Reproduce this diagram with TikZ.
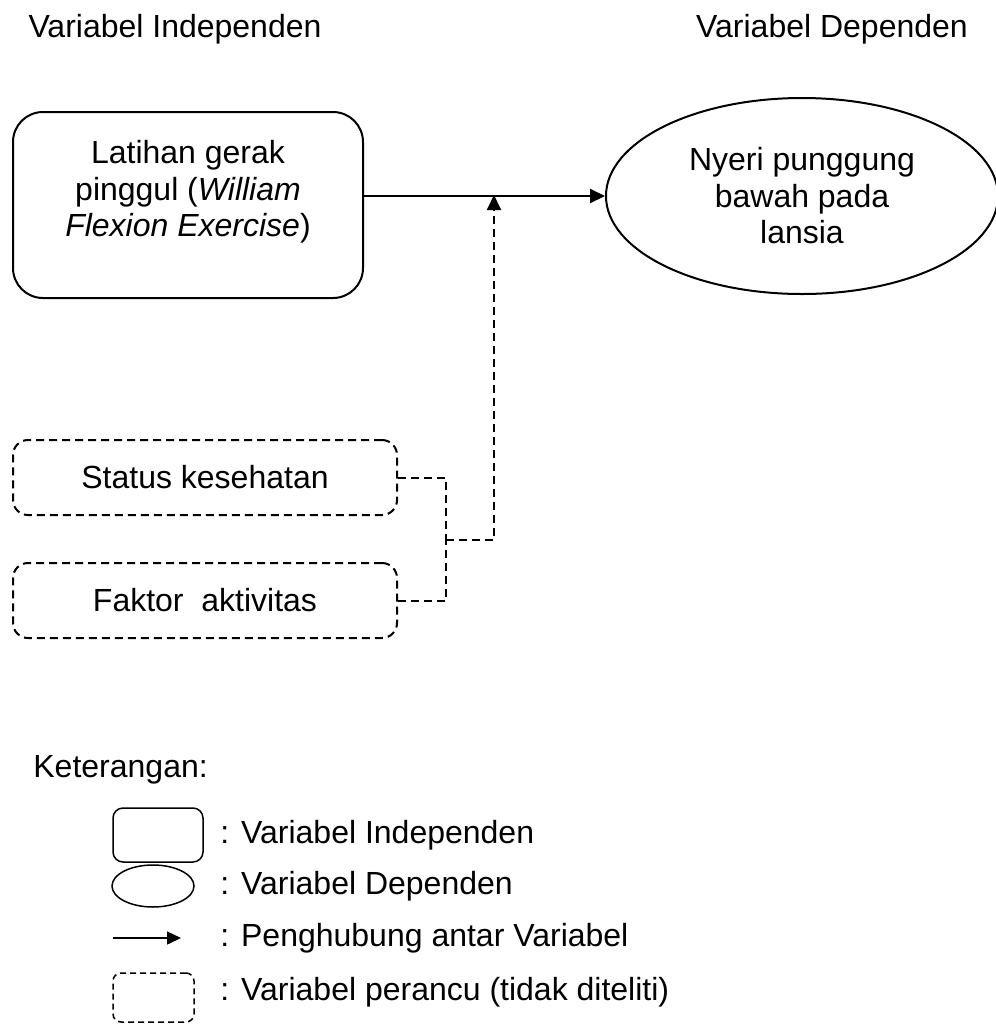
\documentclass[tikz,border=0pt]{standalone}
\usepackage{fontspec}
\setmainfont{Liberation Sans}
\usetikzlibrary{shapes.geometric,arrows.meta}

\begin{document}
\begin{tikzpicture}[x=0.5pt,y=-0.5pt,
  font=\fontsize{16pt}{18.25pt}\selectfont,
  every node/.style={inner sep=0pt},
  indep/.style={draw,line width=1pt,rounded corners=15pt,minimum width=175pt,minimum height=93pt},
  depen/.style={draw,line width=1pt,ellipse,minimum width=196pt,minimum height=98pt,align=center},
  perancu/.style={draw,line width=1pt,dash pattern=on 4pt off 2.5pt,rounded corners=7.5pt,minimum width=192pt,minimum height=37.5pt},
  tip/.style={-{Triangle[length=7.5pt,width=7pt]}},
  conn/.style={line width=1pt,tip},
  dashconn/.style={line width=1pt,dash pattern=on 4pt off 2.5pt},
  lgline/.style={draw,line width=0.75pt}]
\useasboundingbox (0,0) rectangle (996,1030);

% judul kolom
\node (judind) at (175,29) {Variabel Independen};
\node (juddep) at (832,29) {Variabel Dependen};

% variabel independen dan dependen
\node[indep] (latihan) at (188,205) {};
\node[align=center] (tekslatihan) at (188,192) {Latihan gerak\\pinggul (\textit{William}\\\textit{Flexion Exercise})};
\node[depen] (nyeri) at (802,196) {Nyeri punggung\\bawah pada\\lansia};
\draw[conn] (latihan.east |- nyeri.west) -- (nyeri.west);

% variabel perancu
\node[perancu] (status) at (205,477.5) {Status kesehatan};
\node[perancu] (faktor) at (205,600.5) {Faktor~ aktivitas};
\coordinate (gabung) at (446,540);
\coordinate (tumpu) at (494,195);
\draw[dashconn] (status.east) -| (gabung);
\draw[dashconn] (faktor.east) -| (gabung);
\draw[dashconn,tip] (gabung) -| (tumpu);

% keterangan
\node[anchor=west] (ket) at (33,770) {Keterangan:};
\node[lgline,rounded corners=5pt,minimum width=45pt,minimum height=27pt] (lgind) at (158,835) {};
\node[lgline,ellipse,minimum width=41pt,minimum height=21pt] (lgdep) at (153,886) {};
\coordinate (lgpangkal) at (113,938);
\coordinate (lgujung) at (181,938);
\draw[line width=0.75pt,-{Triangle[length=7pt,width=6.5pt]}] (lgpangkal) -- (lgujung);
\node[lgline,dash pattern=on 3pt off 2pt,rounded corners=4pt,minimum width=40.5pt,minimum height=24.5pt] (lgper) at (153.5,997.5) {};
\node[anchor=west] (ketind) at (220,835) {: Variabel Independen};
\node[anchor=west] (ketdep) at (220,886) {: Variabel Dependen};
\node[anchor=west] (ketpen) at (220,938) {: Penghubung antar Variabel};
\node[anchor=west] (ketper) at (220,992) {: Variabel perancu (tidak diteliti)};
\end{tikzpicture}
\end{document}
